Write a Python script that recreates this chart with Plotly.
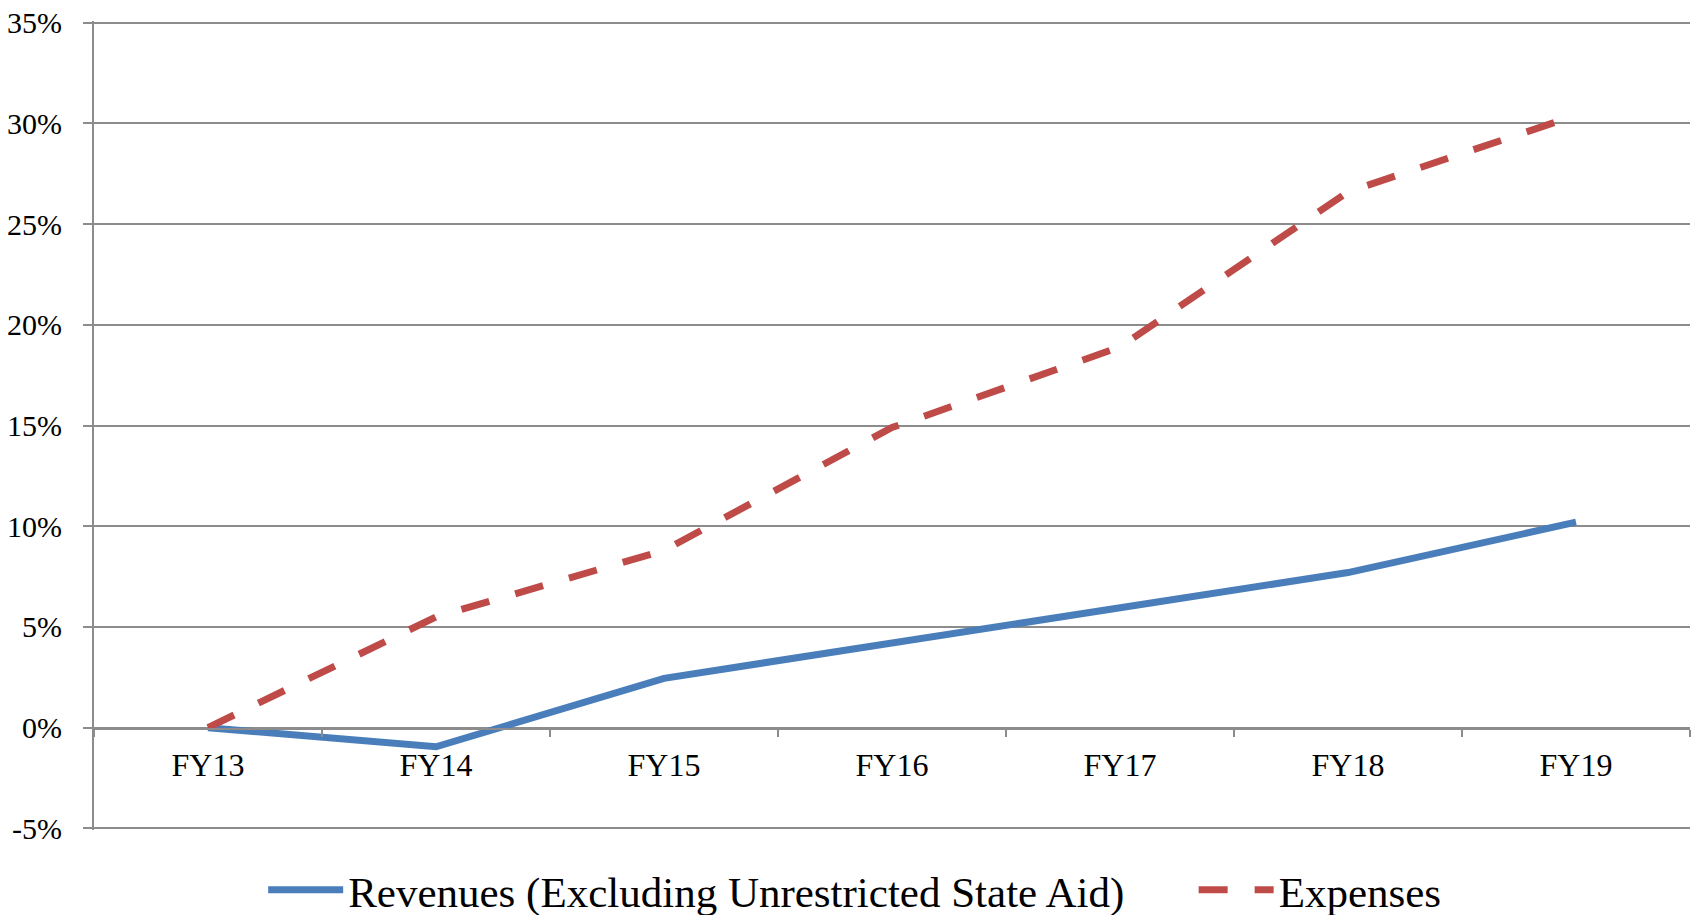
import plotly.graph_objects as go

categories = ["FY13", "FY14", "FY15", "FY16", "FY17", "FY18", "FY19"]
revenues = [0.0, -0.95, 2.45, 4.2, 6.0, 7.7, 10.2]
expenses = [0.0, 5.5, 8.8, 14.9, 18.9, 26.6, 30.4]
y_ticks = [-5, 0, 5, 10, 15, 20, 25, 30, 35]
y_tick_labels = [f"{v}%" for v in y_ticks]

FONT = "Liberation Serif, Times New Roman, serif"
GRID = "#8c8c8c"

fig = go.Figure()
fig.add_trace(go.Scatter(
    x=categories, y=revenues, mode="lines",
    name="Revenues (Excluding Unrestricted State Aid)",
    line=dict(color="#4a7ebb", width=7),
    legend="legend",
))
fig.add_trace(go.Scatter(
    x=categories, y=expenses, mode="lines",
    name="Expenses",
    line=dict(color="#be4b48", width=7, dash="29px,27px"),
    legend="legend2",
))

legend_common = dict(
    orientation="h", xanchor="left", y=-0.074, yanchor="middle",
    font=dict(family=FONT, size=43, color="black"),
    itemwidth=75, bgcolor="rgba(0,0,0,0)", borderwidth=0,
)

fig.update_layout(
    width=1694, height=915,
    margin=dict(l=94, r=4, t=21, b=85, autoexpand=False),
    paper_bgcolor="white", plot_bgcolor="white",
    font=dict(family=FONT, size=30, color="black"),
    showlegend=True,
    legend=dict(x=0.106, **legend_common),
    legend2=dict(x=0.689, **legend_common),
    xaxis=dict(
        type="category", range=[-0.5, 6.5],
        anchor="free", position=0.125, automargin=False,
        showline=True, linecolor=GRID, linewidth=2,
        showgrid=False, zeroline=False,
        ticks="outside", tickson="boundaries", ticklen=7, tickcolor=GRID, tickwidth=2,
        ticklabelstandoff=8,
        tickfont=dict(family=FONT, size=32, color="black"),
    ),
    yaxis=dict(
        range=[-5.08, 35.08], tickvals=y_ticks, ticktext=y_tick_labels,
        automargin=False, ticklabeloverflow="allow",
        showline=True, linecolor=GRID, linewidth=2,
        showgrid=True, gridcolor=GRID, gridwidth=2,
        zeroline=False,
        ticks="outside", ticklen=9, tickcolor=GRID, tickwidth=2,
        ticklabelstandoff=15,
        tickfont=dict(family=FONT, size=30, color="black"),
    ),
)

fig.write_html(
    "out.html",
    config={"displayModeBar": False},
    post_script="document.body.style.margin='0';document.body.style.overflow='hidden';",
)
